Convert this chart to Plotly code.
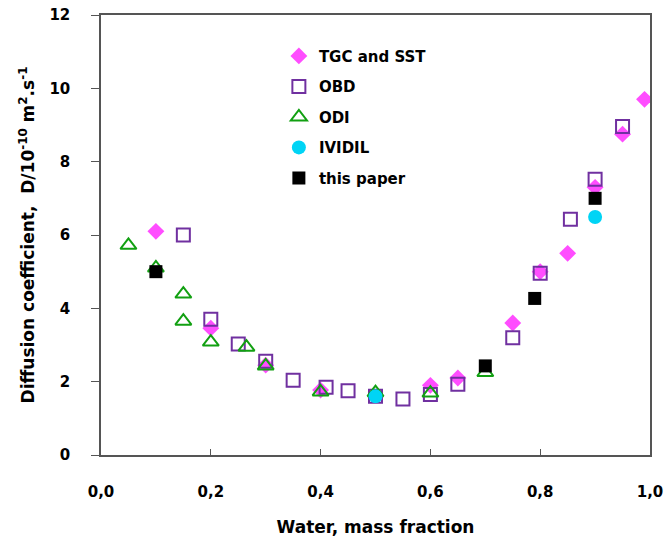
import plotly.graph_objects as go

tgc_x = [0.10, 0.20, 0.30, 0.40, 0.60, 0.65, 0.75, 0.80, 0.85, 0.90, 0.95, 0.99]
tgc_y = [6.10, 3.46, 2.45, 1.77, 1.90, 2.10, 3.60, 5.00, 5.50, 7.30, 8.75, 9.70]

obd_x = [0.15, 0.20, 0.25, 0.30, 0.35, 0.41, 0.45, 0.50, 0.55, 0.60, 0.65, 0.75, 0.80, 0.855, 0.90, 0.95]
obd_y = [6.00, 3.70, 3.03, 2.56, 2.04, 1.85, 1.75, 1.60, 1.53, 1.65, 1.93, 3.20, 4.96, 6.43, 7.52, 8.96]

odi_x = [0.05, 0.10, 0.15, 0.15, 0.20, 0.265, 0.30, 0.40, 0.50, 0.60, 0.70]
odi_y = [5.72, 5.10, 4.39, 3.65, 3.08, 2.94, 2.43, 1.72, 1.70, 1.69, 2.25]

ividil_x = [0.50, 0.90]
ividil_y = [1.60, 6.49]

paper_x = [0.10, 0.70, 0.79, 0.90]
paper_y = [5.00, 2.43, 4.27, 7.00]

x_ticks = [0, 0.2, 0.4, 0.6, 0.8, 1.0]
y_ticks = [0, 2, 4, 6, 8, 10, 12]

FONT = "DejaVu Sans"

fig = go.Figure()
fig.add_trace(go.Scatter(x=tgc_x, y=tgc_y, mode="markers", name="TGC and SST", legendgroup="a",
                         marker=dict(symbol="diamond", size=13, color="#FF4DFF")))
fig.add_trace(go.Scatter(x=obd_x, y=obd_y, mode="markers", name="OBD", legendgroup="b",
                         marker=dict(symbol="square-open", size=13, color="#7030A0", line=dict(width=2))))
fig.add_trace(go.Scatter(x=odi_x, y=odi_y, mode="markers", name="ODI", legendgroup="c",
                         marker=dict(symbol="triangle-up-open", size=14, color="#12A012", line=dict(width=2))))
fig.add_trace(go.Scatter(x=ividil_x, y=ividil_y, mode="markers", name="IVIDIL", legendgroup="d",
                         marker=dict(symbol="circle", size=14, color="#00D4F5")))
fig.add_trace(go.Scatter(x=paper_x, y=paper_y, mode="markers", name="this paper", legendgroup="e",
                         marker=dict(symbol="square", size=13, color="#000000")))

fig.update_layout(
    width=664, height=543,
    margin=dict(l=101, r=14, t=15, b=88),
    paper_bgcolor="white", plot_bgcolor="white",
    separators=",.",
    font=dict(family=FONT, size=15, color="black"),
    showlegend=True,
    legend=dict(x=0.324, y=0.944, xanchor="left", yanchor="top",
                font=dict(family=FONT, size=15, color="black", weight="bold"),
                tracegroupgap=8, itemwidth=30, bgcolor="rgba(0,0,0,0)"),
    xaxis=dict(range=[0, 1], tickvals=x_ticks, tickformat=".1f",
               ticks="inside", ticklen=6, tickcolor="#555", showline=True, linecolor="#555",
               linewidth=1.5, mirror=True, showgrid=False, zeroline=False, automargin=False,
               ticklabelstandoff=22,
               tickfont=dict(family=FONT, size=15, weight="bold"),
               title=dict(text="Water, mass fraction", standoff=21,
                          font=dict(family=FONT, size=17, weight="bold"))),
    yaxis=dict(range=[0, 12], tickvals=y_ticks,
               ticks="outside", ticklen=8, tickcolor="#555", showline=True, linecolor="#555",
               linewidth=1.5, mirror=True, showgrid=False, zeroline=False, automargin=False,
               ticklabelstandoff=18,
               tickfont=dict(family=FONT, size=15, weight="bold"),
               title=dict(text="Diffusion coefficient,  D/10<sup>-10</sup> m<sup>2</sup>.s<sup>-1</sup>",
                          standoff=10, font=dict(family=FONT, size=17, weight="bold"))),
)

fig.write_html("out.html", config={"displayModeBar": False},
               post_script="document.body.style.margin='0';")
